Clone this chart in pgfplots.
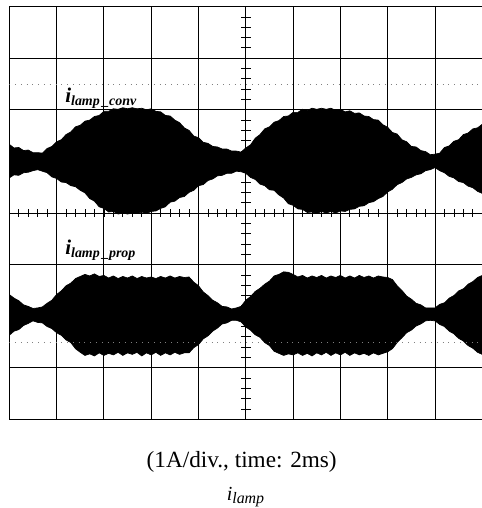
\documentclass[border=0pt]{standalone}
\usepackage{pgfplots}
\usepackage{pgfplotstable}
\pgfplotsset{compat=1.18}
\usepgfplotslibrary{fillbetween}
\usepackage{fontspec}
\setmainfont{Liberation Serif}

% Envelope of the lamp current, conventional drive (upper trace, in divisions)
\pgfplotstableread{
x    hi    lo
0.0  1.33  0.68
0.1  1.26  0.74
0.2  1.27  0.73
0.3  1.21  0.78
0.4  1.22  0.79
0.5  1.17  0.82
0.6  1.17  0.84
0.7  1.16  0.81
0.8  1.25  0.78
0.9  1.29  0.70
1.0  1.38  0.67
1.1  1.42  0.60
1.2  1.52  0.59
1.3  1.57  0.53
1.4  1.67  0.51
1.5  1.70  0.44
1.6  1.78  0.39
1.7  1.80  0.28
1.8  1.87  0.23
1.9  1.89  0.12
2.0  1.97  0.09
2.1  1.97  0.02
2.2  2.02  0.03
2.3  2.01  -0.02
2.4  2.04  0.00
2.5  2.02  -0.02
2.6  2.04  0.00
2.7  2.02  -0.01
2.8  2.03  0.02
2.9  2.00  -0.01
3.0  2.02  0.03
3.1  1.97  0.04
3.2  1.96  0.09
3.3  1.89  0.12
3.4  1.88  0.21
3.5  1.80  0.23
3.6  1.75  0.30
3.7  1.65  0.32
3.8  1.60  0.40
3.9  1.49  0.44
4.0  1.46  0.53
4.1  1.37  0.55
4.2  1.35  0.63
4.3  1.29  0.66
4.4  1.28  0.72
4.5  1.24  0.73
4.6  1.24  0.77
4.7  1.20  0.77
4.8  1.20  0.81
4.9  1.18  0.80
5.0  1.26  0.77
5.1  1.32  0.69
5.2  1.45  0.65
5.3  1.52  0.56
5.4  1.63  0.53
5.5  1.67  0.45
5.6  1.76  0.44
5.7  1.79  0.35
5.8  1.87  0.29
5.9  1.88  0.18
6.0  1.95  0.15
6.1  1.95  0.08
6.2  2.01  0.07
6.3  1.99  0.01
6.4  2.03  0.02
6.5  2.01  -0.01
6.6  2.03  0.03
6.7  2.01  0.00
6.8  2.03  0.03
6.9  1.99  0.00
7.0  2.01  0.04
7.1  1.96  0.03
7.2  1.98  0.07
7.3  1.93  0.08
7.4  1.94  0.13
7.5  1.88  0.14
7.6  1.87  0.20
7.7  1.81  0.22
7.8  1.80  0.28
7.9  1.71  0.32
8.0  1.66  0.41
8.1  1.56  0.46
8.2  1.53  0.55
8.3  1.42  0.59
8.4  1.38  0.66
8.5  1.29  0.69
8.6  1.28  0.74
8.7  1.21  0.76
8.8  1.19  0.82
8.9  1.13  0.84
9.0  1.14  0.88
9.1  1.16  0.82
9.2  1.27  0.78
9.3  1.30  0.71
9.4  1.39  0.68
9.5  1.42  0.61
9.6  1.52  0.59
9.7  1.55  0.52
9.8  1.63  0.49
9.9  1.65  0.42
10.0 1.72  0.38
}\convdata

% Envelope of the lamp current, proposed drive (lower trace, in divisions)
\pgfplotstableread{
x    hi     lo
0.0  -1.58  -2.37
0.1  -1.65  -2.29
0.2  -1.70  -2.26
0.3  -1.78  -2.18
0.4  -1.81  -2.14
0.5  -1.85  -2.09
0.6  -1.84  -2.12
0.7  -1.82  -2.13
0.8  -1.75  -2.20
0.9  -1.69  -2.24
1.0  -1.58  -2.32
1.1  -1.51  -2.37
1.2  -1.41  -2.46
1.3  -1.36  -2.51
1.4  -1.27  -2.63
1.5  -1.23  -2.70
1.6  -1.19  -2.76
1.7  -1.22  -2.73
1.8  -1.18  -2.77
1.9  -1.23  -2.71
2.0  -1.21  -2.76
2.1  -1.26  -2.72
2.2  -1.22  -2.75
2.3  -1.27  -2.70
2.4  -1.23  -2.76
2.5  -1.26  -2.71
2.6  -1.22  -2.74
2.7  -1.27  -2.70
2.8  -1.23  -2.77
2.9  -1.26  -2.71
3.0  -1.24  -2.75
3.1  -1.27  -2.70
3.2  -1.23  -2.76
3.3  -1.26  -2.71
3.4  -1.22  -2.75
3.5  -1.26  -2.70
3.6  -1.23  -2.74
3.7  -1.25  -2.71
3.8  -1.24  -2.71
3.9  -1.34  -2.61
4.0  -1.41  -2.55
4.1  -1.53  -2.44
4.2  -1.60  -2.38
4.3  -1.69  -2.29
4.4  -1.74  -2.23
4.5  -1.81  -2.15
4.6  -1.82  -2.13
4.7  -1.86  -2.08
4.8  -1.84  -2.08
4.9  -1.81  -2.11
5.0  -1.69  -2.21
5.1  -1.62  -2.27
5.2  -1.52  -2.36
5.3  -1.46  -2.41
5.4  -1.38  -2.51
5.5  -1.32  -2.57
5.6  -1.22  -2.68
5.7  -1.19  -2.72
5.8  -1.14  -2.76
5.9  -1.15  -2.73
6.0  -1.19  -2.75
6.1  -1.24  -2.71
6.2  -1.21  -2.76
6.3  -1.26  -2.72
6.4  -1.22  -2.77
6.5  -1.25  -2.71
6.6  -1.21  -2.75
6.7  -1.26  -2.70
6.8  -1.22  -2.76
6.9  -1.25  -2.71
7.0  -1.21  -2.75
7.1  -1.26  -2.70
7.2  -1.22  -2.76
7.3  -1.26  -2.71
7.4  -1.21  -2.75
7.5  -1.25  -2.72
7.6  -1.22  -2.76
7.7  -1.26  -2.71
7.8  -1.22  -2.75
7.9  -1.24  -2.72
8.0  -1.25  -2.69
8.1  -1.29  -2.63
8.2  -1.41  -2.51
8.3  -1.50  -2.42
8.4  -1.61  -2.32
8.5  -1.67  -2.27
8.6  -1.75  -2.19
8.7  -1.78  -2.15
8.8  -1.84  -2.09
8.9  -1.84  -2.08
9.0  -1.84  -2.09
9.1  -1.77  -2.16
9.2  -1.74  -2.20
9.3  -1.65  -2.29
9.4  -1.60  -2.34
9.5  -1.51  -2.43
9.6  -1.47  -2.48
9.7  -1.38  -2.57
9.8  -1.33  -2.62
9.9  -1.25  -2.70
10.0 -1.21  -2.74
}\propdata

\begin{document}
\begin{tikzpicture}
\begin{axis}[
  at={(0,0)}, anchor=south west,
  scale only axis, width=473bp, height=412.8bp,
  xmin=0, xmax=10, ymin=-4, ymax=4,
  xtick={0,...,10}, ytick={-4,...,4},
  xticklabels={}, yticklabels={},
  major tick length=0pt,
  grid=major,
  grid style={black, line width=1pt, solid},
  axis line style={black, line width=1.1pt},
  clip=true,
]
% graticule: dotted reference levels and the centre scales
\draw[gray, line width=0.7pt, dash pattern=on 0.8pt off 5pt] (axis cs:0,2.5) -- (axis cs:10,2.5);
\draw[gray, line width=0.7pt, dash pattern=on 0.8pt off 5pt] (axis cs:0,-2.5) -- (axis cs:10,-2.5);
\pgfplotsinvokeforeach{0.2,0.4,...,9.8}{
  \draw[black, line width=0.8pt] (axis cs:#1,-0.07) -- (axis cs:#1,0.07);
}
\pgfplotsinvokeforeach{-3.8,-3.6,...,3.8}{
  \draw[black, line width=0.8pt] (axis cs:4.9,#1) -- (axis cs:5.1,#1);
}

% upper trace
\addplot[draw=black, line width=0.7pt, name path=ct] table[x=x, y=hi]{\convdata};
\addplot[draw=black, line width=0.7pt, name path=cb] table[x=x, y=lo]{\convdata};
\addplot[black] fill between[of=ct and cb];

% lower trace
\addplot[draw=black, line width=0.7pt, name path=pt] table[x=x, y=hi]{\propdata};
\addplot[draw=black, line width=0.7pt, name path=pb] table[x=x, y=lo]{\propdata};
\addplot[black] fill between[of=pt and pb];

\node[anchor=base west, inner sep=0pt] at (axis cs:1.18,2.14)
  {\fontsize{21}{21}\selectfont\bfseries\itshape i\raisebox{-2.5bp}{\fontsize{14}{14}\selectfont lamp\,\_conv}};
\node[anchor=base west, inner sep=0pt] at (axis cs:1.18,-0.81)
  {\fontsize{21}{21}\selectfont\bfseries\itshape i\raisebox{-2.5bp}{\fontsize{14}{14}\selectfont lamp\,\_prop}};
\end{axis}
\node[anchor=base] at (232.4bp,-47.9bp) {\fontsize{23.3}{23.3}\selectfont (1A/div., time: 2ms)};
\node[anchor=base] at (236.2bp,-81bp) {\fontsize{20}{20}\selectfont\itshape i\raisebox{-3.5bp}{\fontsize{16}{16}\selectfont lamp}};
\pgfresetboundingbox
\useasboundingbox (-9.3bp,-88.6bp) rectangle (472.7bp,419.4bp);
\end{tikzpicture}
\end{document}
